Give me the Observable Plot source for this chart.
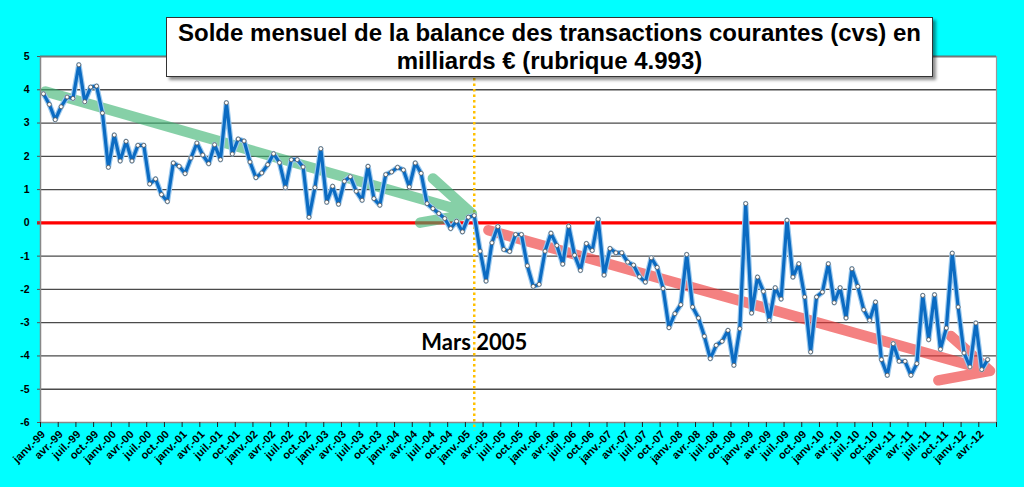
<!DOCTYPE html>
<html><head><meta charset="utf-8">
<script src="https://cdn.jsdelivr.net/npm/d3@7"></script>
<script src="https://cdn.jsdelivr.net/npm/@observablehq/plot@0.6"></script>
<style>
body{margin:0;background:#00FFFF;}
#wrap{position:relative;width:1024px;height:487px;overflow:hidden;}
#title{position:absolute;left:166px;top:17px;width:767px;height:60px;background:#fff;border:1px solid #333;box-shadow:3px 3px 3px rgba(0,0,0,0.45);font:bold 24px "Liberation Sans",Arial,sans-serif;text-align:center;line-height:28px;padding-top:1px;box-sizing:border-box;color:#000;white-space:nowrap;}
</style></head><body>
<div id="wrap"><div id="chart"></div><div id="title">Solde mensuel de la balance des transactions courantes (cvs) en<br>milliards € (rubrique 4.993)</div></div>
<script>
// Monthly current account balance (billions €), janv.-99 .. mai-12
const values = [
 3.88,3.56,3.10,3.49,3.78,3.74,4.75,3.64,4.08,4.11,3.30,1.67,
 2.64,1.86,2.45,1.86,2.33,2.33,1.17,1.32,0.85,0.64,1.80,1.70,
 1.48,1.95,2.40,2.04,1.78,2.35,1.90,3.61,2.07,2.52,2.46,1.83,
 1.36,1.50,1.75,2.08,1.81,1.06,1.90,1.90,1.68,0.17,1.06,2.23,
 0.62,1.10,0.56,1.25,1.39,0.95,0.68,1.70,0.73,0.53,1.45,1.53,
 1.67,1.59,1.08,1.80,1.49,0.58,0.43,0.28,0.13,-0.17,0.05,-0.27,
 0.17,0.22,-0.85,-1.75,-0.60,-0.11,-0.80,-0.86,-0.35,-0.35,-1.29,-1.91,
 -1.85,-0.85,-0.31,-0.68,-1.24,-0.10,-0.97,-1.43,-0.62,-0.83,0.11,-1.57,
 -0.77,-0.90,-0.90,-1.18,-1.27,-1.62,-1.78,-1.05,-1.34,-1.97,-3.15,-2.73,
 -2.46,-0.95,-2.53,-2.86,-3.41,-4.08,-3.68,-3.56,-3.23,-4.28,-3.18,0.58,
 -2.71,-1.63,-2.06,-2.93,-1.95,-2.29,0.08,-1.63,-1.23,-2.23,-3.88,-2.23,
 -2.08,-1.23,-2.40,-1.95,-2.86,-1.38,-1.91,-2.61,-2.93,-2.38,-4.11,-4.58,
 -3.63,-4.16,-4.16,-4.58,-4.23,-2.18,-3.51,-2.16,-3.80,-3.16,-0.91,-2.53,
 -3.91,-4.33,-3.01,-4.41,-4.11
];
const monthNames = ["janv.","févr.","mars","avr.","mai","juin","juil.","août","sept.","oct.","nov.","déc."];
const startYear = 1999;
const categoryCount = 162;
const labelStep = 3;
const yTicks = [-6,-5,-4,-3,-2,-1,0,1,2,3,4,5];
const markerIndex = 73;
const markerLabel = "Mars 2005";
// trend arrows: [x1 index, y1, x2 index, y2]
const trendArrows = [
  {x1:0.35, y1:3.95, x2:72.6, y2:0.28, color:"#3cb371", w:10},
  {x1:75.4, y1:-0.22, x2:160.4, y2:-4.45, color:"#ee3333", w:11}
];

const data = values.map((v,i)=>({i, v}));
const label = i => monthNames[i%12] + "-" + String((startYear + Math.floor(i/12))%100).padStart(2,"0");
const labelTicks = d3.range(0, categoryCount, labelStep);
const boundaryTicks = d3.range(-0.5, categoryCount, labelStep);

const chart = Plot.plot({
  width:1024, height:487,
  marginLeft:40, marginRight:28, marginTop:56, marginBottom:65,
  style:{background:"transparent", fontFamily:"'Liberation Sans', Arial, sans-serif"},
  x:{domain:[-0.5, categoryCount-0.5]},
  y:{domain:[-6,5]},
  marks:[
    Plot.frame({fill:"white", stroke:"none"}),
    Plot.ruleY(yTicks.filter(t=>t!==0 && t!==-6), {stroke:"#4a4a4a", strokeWidth:1.3}),
    Plot.ruleY([0], {stroke:"#ff0000", strokeWidth:3.2, x1:-1, x2:categoryCount-0.5}),
    Plot.ruleX([markerIndex], {y1:5, y2:-6.25, stroke:"#ffc000", strokeWidth:2.5, strokeDasharray:"2.5,3"}),
    Plot.text([markerLabel], {x:markerIndex, y:-3.6, text:d=>d, fontSize:22, fontWeight:"bold", fontFamily:"Lato, 'Open Sans', sans-serif", fill:"#000"}),
    Plot.arrow(trendArrows, {x1:"x1", y1:"y1", x2:"x2", y2:"y2", stroke:"color", strokeWidth:10.5, strokeOpacity:0.62, headAngle:52, headLength:7.5, strokeLinecap:"round", strokeLinejoin:"round"}),
    Plot.line(data, {x:"i", y:"v", stroke:"#9cc9ee", strokeWidth:5.5, strokeLinejoin:"round"}),
    Plot.line(data, {x:"i", y:"v", stroke:"#0b6bc2", strokeWidth:3.2, strokeLinejoin:"round"}),
    Plot.dot(data, {x:"i", y:"v", r:2, fill:"white", stroke:"#555", strokeWidth:0.8}),
    Plot.ruleX([-0.5], {stroke:"#888", strokeWidth:1.5}),
    Plot.ruleX([categoryCount-0.5], {stroke:"#999", strokeWidth:1.2}),
    Plot.ruleY([-6], {stroke:"#888", strokeWidth:1.5}),
    Plot.ruleY([5], {stroke:"#777", strokeWidth:1.3}),
    Plot.axisY({ticks:yTicks, tickSize:3, tickPadding:8, fontSize:10.5, fontWeight:"bold", stroke:"#555", tickFormat:d=>String(d)}),
    Plot.axisX({ticks:boundaryTicks, tickSize:5, tickFormat:()=>"", stroke:"#222"}),
    Plot.axisX({ticks:labelTicks, tickSize:0, tickPadding:10, tickRotate:-45, fontSize:11, fontWeight:"bold", tickFormat:label})
  ]
});
document.getElementById("chart").appendChild(chart);
</script>
</body></html>
